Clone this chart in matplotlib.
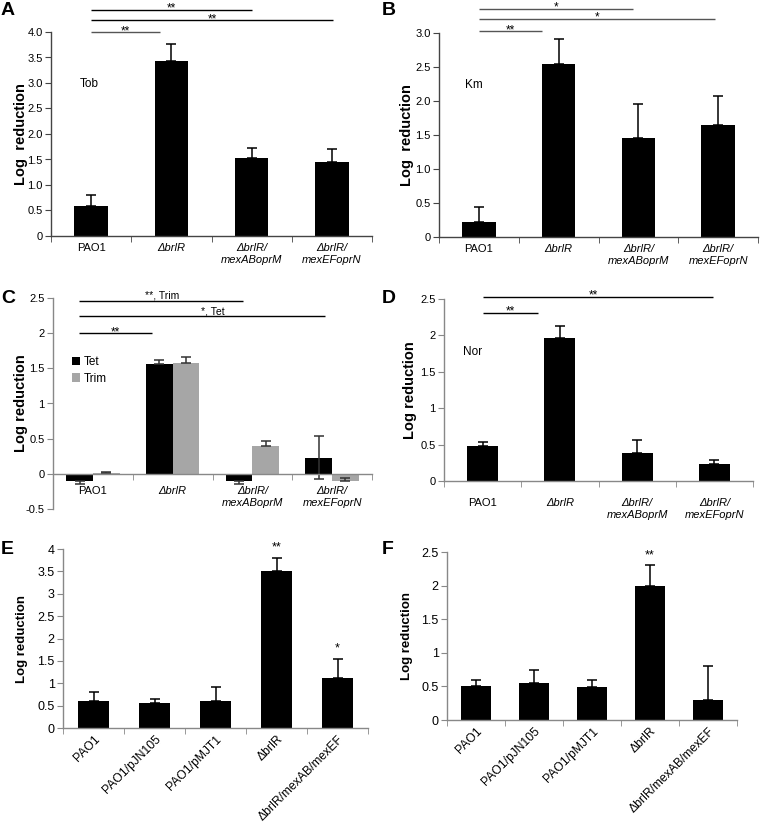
import numpy as np
import matplotlib
matplotlib.use("Agg")
import matplotlib.pyplot as plt

plt.rcParams['font.family'] = ['Liberation Sans', 'DejaVu Sans']

# ---------------- data ----------------
cats4 = ['PAO1', 'ΔbrlR', 'ΔbrlR/\nmexABoprM', 'ΔbrlR/\nmexEFoprN']
cats5 = ['PAO1', 'PAO1/pJN105', 'PAO1/pMJT1', 'ΔbrlR', 'ΔbrlR/mexAB/mexEF']

tob = [0.59, 3.43, 1.52, 1.46]
tob_err = [0.21, 0.33, 0.21, 0.24]

km = [0.22, 2.55, 1.46, 1.64]
km_err = [0.22, 0.36, 0.50, 0.44]

tet = [-0.10, 1.56, -0.10, 0.23]
tet_err_lo = [0.04, 0.0, 0.04, 0.31]
tet_err_hi = [0.0, 0.06, 0.0, 0.31]
trim = [0.005, 1.58, 0.40, -0.10]
trim_err_lo = [0.0, 0.0, 0.0, 0.0]
trim_err_hi = [0.025, 0.08, 0.07, 0.035]

nor = [0.48, 1.96, 0.39, 0.23]
nor_err = [0.06, 0.17, 0.18, 0.06]

e_vals = [0.60, 0.55, 0.61, 3.50, 1.11]
e_err = [0.20, 0.10, 0.30, 0.30, 0.43]

f_vals = [0.50, 0.55, 0.49, 2.00, 0.30]
f_err = [0.10, 0.20, 0.10, 0.30, 0.50]

# ---------------- figure ----------------
W, H = 760, 822
fig = plt.figure(figsize=(W / 100, H / 100), dpi=100)


def add_axes(x0, x1, ytop, ybot):
    return fig.add_axes([x0 / W, 1 - ybot / H, (x1 - x0) / W, (ybot - ytop) / H])


def style(ax, n, labels, spine_col, italic_mask, rot=False, fs=8, yfs=8, pad=3):
    for s in ['top', 'right']:
        ax.spines[s].set_visible(False)
    for s in ['left', 'bottom']:
        ax.spines[s].set_color(spine_col)
        ax.spines[s].set_linewidth(1.0)
    ax.set_xlim(-0.5, n - 0.5)
    ax.set_xticks(range(n))
    if rot:
        ax.set_xticklabels(labels, rotation=45, ha='right', rotation_mode='anchor', fontsize=fs)
    else:
        ax.set_xticklabels(labels, fontsize=fs, linespacing=1.25)
    for t, it in zip(ax.get_xticklabels(), italic_mask):
        if it:
            t.set_fontstyle('italic')
    ax.set_xticks(np.arange(-0.5, n, 1.0), minor=True)
    ax.tick_params(axis='x', which='major', length=0, pad=pad)
    ax.tick_params(axis='x', which='minor', length=4, direction='out', color=spine_col)
    ax.tick_params(axis='y', length=4, direction='out', color=spine_col, labelsize=yfs, pad=2)


def sig(ax, x0, x1, y, text, tx=None, color='black', fs=8.5, off=-1.5):
    ax.plot([x0, x1], [y, y], color=color, lw=1.0, clip_on=False, solid_capstyle='butt')
    ax.annotate(text, xy=((x0 + x1) / 2 if tx is None else tx, y), xytext=(0, off),
                textcoords='offset points', ha='center', va='baseline', fontsize=fs,
                annotation_clip=False)


ekw = dict(ecolor='black', elinewidth=1.1, capsize=3.5, capthick=1.1)

# ---------------- A ----------------
axA = add_axes(51, 372, 32, 236)
x = np.arange(4)
axA.bar(x, tob, width=0.42, color='black', yerr=[[0] * 4, tob_err], error_kw=ekw)
axA.set_ylim(0, 4.0)
axA.set_yticks(np.arange(0, 4.01, 0.5))
axA.set_yticklabels(['0'] + ['%.1f' % v for v in np.arange(0.5, 4.01, 0.5)])
style(axA, 4, cats4, '#444444', [False, True, True, True], fs=8, pad=5)
axA.set_ylabel('Log  reduction', fontsize=10.5, fontweight='bold')
axA.yaxis.set_label_coords((28 - 51) / 321, 0.5)
axA.text(0.09, 0.73, 'Tob', transform=axA.transAxes, fontsize=8.5)
sig(axA, 0, 0.86, 4.0, '**', color='#555555')
sig(axA, 0, 3.02, 4.235, '**')
sig(axA, 0, 2.0, 4.44, '**')

# ---------------- B ----------------
axB = add_axes(439, 758, 33, 237)
axB.bar(x, km, width=0.42, color='black', yerr=[[0] * 4, km_err], error_kw=ekw)
axB.set_ylim(0, 3.0)
axB.set_yticks(np.arange(0, 3.01, 0.5))
axB.set_yticklabels(['0'] + ['%.1f' % v for v in np.arange(0.5, 3.01, 0.5)])
style(axB, 4, cats4, '#444444', [False, True, True, True], fs=8, pad=5)
axB.set_ylabel('Log  reduction', fontsize=10.5, fontweight='bold')
axB.yaxis.set_label_coords((414 - 439) / 319, 0.5)
axB.text(0.08, 0.73, 'Km', transform=axB.transAxes, fontsize=8.5)
sig(axB, 0, 0.79, 3.03, '**', color='#555555')
sig(axB, 0, 2.96, 3.21, '*', color='#555555')
sig(axB, 0, 1.93, 3.36, '*', color='#555555')

# ---------------- C ----------------
axC = add_axes(53, 372, 298, 509)
axC.spines['bottom'].set_position(('data', 0))
bw = 0.335
axC.bar(x - bw / 2, tet, width=bw, color='black', label='Tet',
        yerr=[tet_err_lo, tet_err_hi], error_kw=dict(ekw, ecolor='#333333'))
axC.bar(x + bw / 2, trim, width=bw, color='#a6a6a6', label='Trim',
        yerr=[trim_err_lo, trim_err_hi], error_kw=dict(ekw, ecolor='#333333'))
axC.set_ylim(-0.5, 2.5)
axC.set_yticks([-0.5, 0, 0.5, 1, 1.5, 2, 2.5])
axC.set_yticklabels(['-0.5', '0', '0.5', '1', '1.5', '2', '2.5'])
style(axC, 4, cats4, '#888888', [False, True, True, True], fs=8, pad=9)
axC.set_ylabel('Log reduction', fontsize=10.5, fontweight='bold')
axC.yaxis.set_label_coords((28 - 53) / 319, 0.5)
leg = axC.legend(loc='upper left', bbox_to_anchor=(0.06, 0.725), frameon=False, fontsize=8.5,
                 handlelength=0.7, handleheight=0.7, handletextpad=0.3, labelspacing=0.4,
                 borderpad=0, borderaxespad=0)
sig(axC, -0.17, 0.74, 2.0, '**')
sig(axC, -0.17, 2.91, 2.24, '*, Tet', tx=1.5, fs=7.5, off=1.5)
sig(axC, -0.17, 1.88, 2.46, '**, Trim', tx=0.87, fs=7.5, off=1.5)

# ---------------- D ----------------
axD = add_axes(444, 753, 299, 481)
axD.bar(x, nor, width=0.40, color='black', yerr=[[0] * 4, nor_err], error_kw=ekw)
axD.set_ylim(0, 2.5)
axD.set_yticks([0, 0.5, 1, 1.5, 2, 2.5])
axD.set_yticklabels(['0', '0.5', '1', '1.5', '2', '2.5'])
style(axD, 4, cats4, '#888888', [False, True, True, True], fs=8, pad=12)
axD.set_ylabel('Log reduction', fontsize=10.5, fontweight='bold')
axD.yaxis.set_label_coords((417 - 444) / 309, 0.5)
axD.text(0.06, 0.69, 'Nor', transform=axD.transAxes, fontsize=8.5)
sig(axD, 0.0, 0.72, 2.31, '**')
sig(axD, 0.0, 2.98, 2.53, '**', tx=1.43)

# ---------------- E ----------------
axE = add_axes(63, 368, 549, 728)
x5 = np.arange(5)
axE.bar(x5, e_vals, width=0.51, color='black', yerr=[[0] * 5, e_err], error_kw=ekw)
axE.set_ylim(0, 4)
axE.set_yticks(np.arange(0, 4.01, 0.5))
axE.set_yticklabels(['0', '0.5', '1', '1.5', '2', '2.5', '3', '3.5', '4'])
style(axE, 5, cats5, '#888888', [False] * 5, rot=True, fs=8.7, yfs=9, pad=4)
axE.set_ylabel('Log reduction', fontsize=9.5, fontweight='bold')
axE.yaxis.set_label_coords((28 - 63) / 305, 0.5)
for i, s in [(3, '**'), (4, '*')]:
    axE.text(i, e_vals[i] + e_err[i] + 0.17, s, ha='center', va='baseline', fontsize=9)

# ---------------- F ----------------
axF = add_axes(447, 737, 552, 720)
axF.bar(x5, f_vals, width=0.52, color='black', yerr=[[0] * 5, f_err], error_kw=ekw)
axF.set_ylim(0, 2.5)
axF.set_yticks([0, 0.5, 1, 1.5, 2, 2.5])
axF.set_yticklabels(['0', '0.5', '1', '1.5', '2', '2.5'])
style(axF, 5, cats5, '#888888', [False] * 5, rot=True, fs=8.7, yfs=9, pad=4)
axF.set_ylabel('Log reduction', fontsize=9.5, fontweight='bold')
axF.yaxis.set_label_coords((413 - 447) / 290, 0.5)
axF.text(3, f_vals[3] + f_err[3] + 0.1, '**', ha='center', va='baseline', fontsize=9)

# ---------------- panel letters ----------------
for lab, px, py in [('A', 1, 2), ('B', 382, 2), ('C', 1, 290), ('D', 382, 290),
                    ('E', 1, 541), ('F', 382, 541)]:
    fig.text(px / W, 1 - py / H, lab, fontsize=14, fontweight='bold', ha='left', va='top')

fig.savefig('out.png', dpi=100, facecolor='white')
